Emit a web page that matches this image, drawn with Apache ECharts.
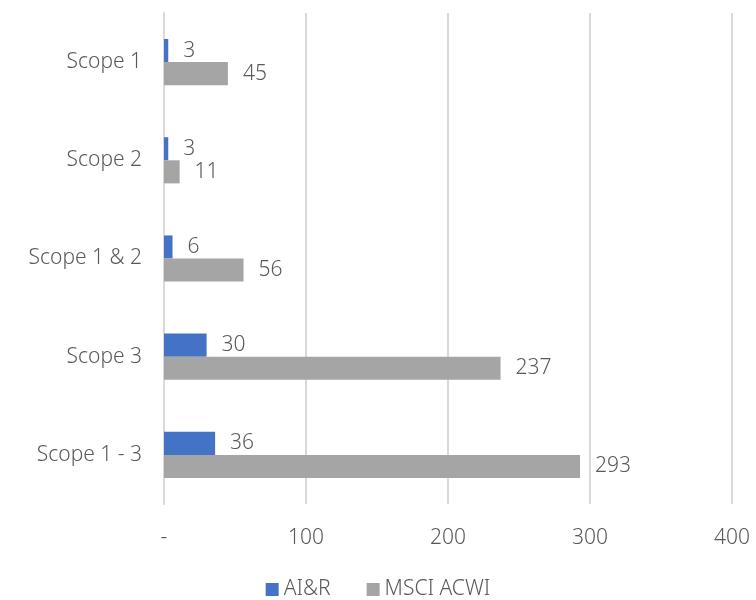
<!DOCTYPE html>
<html lang="en">
<head>
    <meta charset="UTF-8">
    <title>Scope emissions</title>
    <style type="text/css">
        *{ margin: 0; padding: 0; }
        #main{ width: 756px; height: 600px; }
    </style>
</head>
<body>
    <div id="main"></div>
    <script src="https://cdn.jsdelivr.net/npm/echarts@6/dist/echarts.min.js"></script>
    <script type="text/javascript">
        var categories = ['Scope 1', 'Scope 2', 'Scope 1 & 2', 'Scope 3', 'Scope 1 - 3'];
        var aiR = [3, 3, 6, 30, 36];
        var msci = [45, 11, 56, 237, 293];
        var seriesNames = ['AI&R', 'MSCI ACWI'];

        var textColor = '#595959';
        var font = 'Noto Sans';

        var myChart = echarts.init(document.getElementById('main'));

        var labelStyle = {
            show: true,
            position: 'right',
            distance: 15,
            color: textColor,
            fontSize: 21,
            fontWeight: 300,
            fontFamily: font
        };

        var option = {
            animation: false,
            textStyle: { fontFamily: font },
            grid: { left: 164, right: 24, top: 13, bottom: 96 },
            legend: {
                top: 574,
                left: 'center',
                itemWidth: 13,
                itemHeight: 13,
                itemGap: 36,
                icon: 'rect',
                textStyle: { color: textColor, fontSize: 21, fontWeight: 300, fontFamily: font },
                data: seriesNames
            },
            xAxis: {
                type: 'value',
                min: 0,
                max: 400,
                interval: 100,
                axisLine: { show: false },
                axisTick: { show: false },
                splitLine: { lineStyle: { color: '#d9d9d9', width: 2 } },
                axisLabel: {
                    color: textColor,
                    fontSize: 21,
                    fontWeight: 300,
                    margin: 24,
                    formatter: function (v) { return v === 0 ? '-' : v; }
                }
            },
            yAxis: {
                type: 'category',
                inverse: true,
                data: categories,
                axisLine: { show: true, lineStyle: { color: '#d9d9d9', width: 2 } },
                axisTick: { show: false },
                axisLabel: { color: textColor, fontSize: 21, fontWeight: 300, margin: 22 }
            },
            series: [
                {
                    name: seriesNames[0],
                    type: 'bar',
                    data: aiR,
                    barGap: '0%',
                    barCategoryGap: '53%',
                    itemStyle: { color: '#4472C4' },
                    label: labelStyle
                },
                {
                    name: seriesNames[1],
                    type: 'bar',
                    data: msci,
                    itemStyle: { color: '#A5A5A5' },
                    label: labelStyle
                }
            ]
        };

        myChart.setOption(option);
    </script>
</body>
</html>
